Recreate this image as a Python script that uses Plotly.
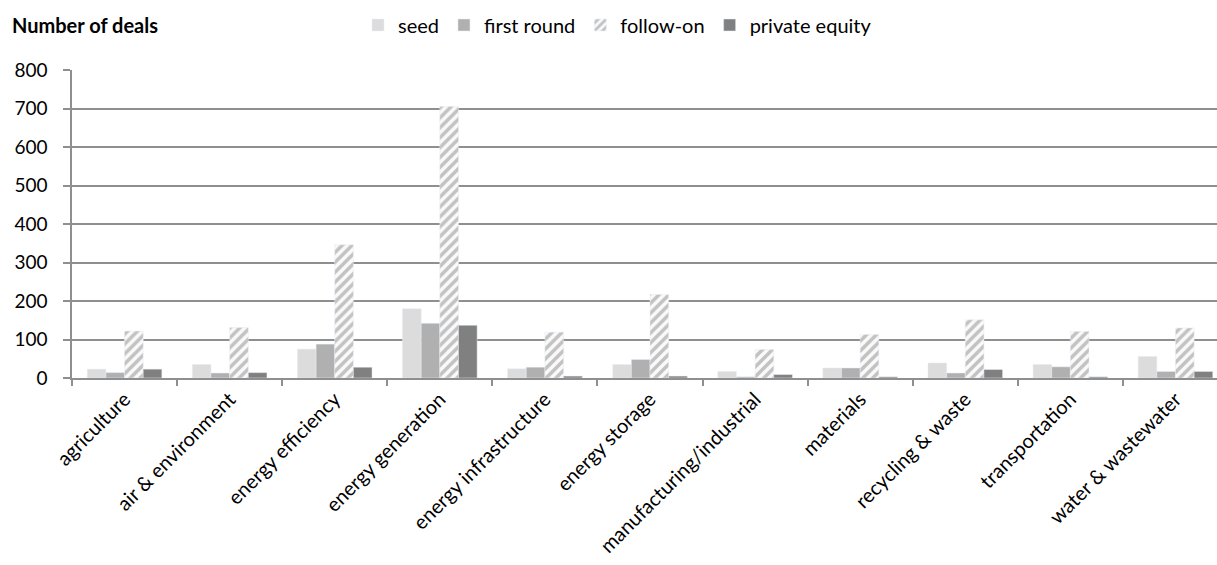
import plotly.graph_objects as go

# Clean-tech deal counts by sector and funding stage
sectors = [
    "agriculture", "air & environment", "energy efficiency", "energy generation",
    "energy infrastructure", "energy storage", "manufacturing/industrial",
    "materials", "recycling & waste", "transportation", "water & wastewater",
]
seed = [23, 35, 75, 180, 24, 35, 17, 26, 39, 35, 56]
first_round = [14, 13, 88, 142, 28, 48, 3, 26, 13, 29, 17]
follow_on = [122, 131, 346, 705, 119, 217, 74, 113, 151, 121, 130]
private_equity = [23, 14, 28, 137, 5, 5, 9, 3, 22, 3, 17]

y_ticks = [0, 100, 200, 300, 400, 500, 600, 700, 800]

FONT = "Lato"
GRID = "#8f8f8f"
W, H = 1217, 565
ML, MT, MB = 72, 70, 187
PW = W - ML
PH = H - MT - MB

fig = go.Figure()
fig.add_trace(go.Bar(name="seed", x=sectors, y=seed, marker=dict(color="#dcdcdc")))
fig.add_trace(go.Bar(name="first round", x=sectors, y=first_round, marker=dict(color="#b0b0b0")))
fig.add_trace(go.Bar(
    name="follow-on", x=sectors, y=follow_on,
    marker=dict(color="#ffffff",
                pattern=dict(shape="/", fgcolor="#8a8a8a", bgcolor="#fafafa",
                             size=7, solidity=0.5)),
))
fig.add_trace(go.Bar(name="private equity", x=sectors, y=private_equity, marker=dict(color="#808080")))

n = len(sectors)
fig.update_layout(
    width=W, height=H,
    margin=dict(l=ML, r=0, t=MT, b=MB),
    paper_bgcolor="white", plot_bgcolor="white",
    barmode="group", bargap=0.29, bargroupgap=0,
    font=dict(family=FONT, color="#000000", size=20),
    showlegend=True,
    legend=dict(orientation="h", x=(378 - 20 - ML) / PW, xanchor="left",
                y=1 - 25 / H, yref="container", yanchor="middle",
                font=dict(size=20), itemwidth=30,
                traceorder="normal", bgcolor="rgba(0,0,0,0)"),
    annotations=[dict(text="<b>Number of deals</b>", xref="paper", yref="paper",
                      x=-(ML - 10) / PW, y=1 + (MT - 25) / PH,
                      xanchor="left", yanchor="middle",
                      showarrow=False, font=dict(size=20, family=FONT))],
)

fig.update_xaxes(
    range=[-0.5, n - 0.5 - 11 / 105],
    showline=True, linecolor=GRID, linewidth=1.5,
    ticks="outside", tickson="boundaries", ticklen=6, tickcolor=GRID, tickwidth=1.5,
    tickangle=-45, tickfont=dict(size=20, family=FONT),
    showgrid=False,
)
fig.update_yaxes(
    range=[0, 800], tickvals=y_ticks,
    showline=True, linecolor=GRID, linewidth=1.5,
    ticks="outside", ticklen=7, tickcolor=GRID, tickwidth=1.5,
    ticklabelstandoff=12,
    showgrid=True, gridcolor=GRID, gridwidth=1.5,
    zeroline=False,
    tickfont=dict(size=19, family=FONT),
)

fig.write_html("out.html")
